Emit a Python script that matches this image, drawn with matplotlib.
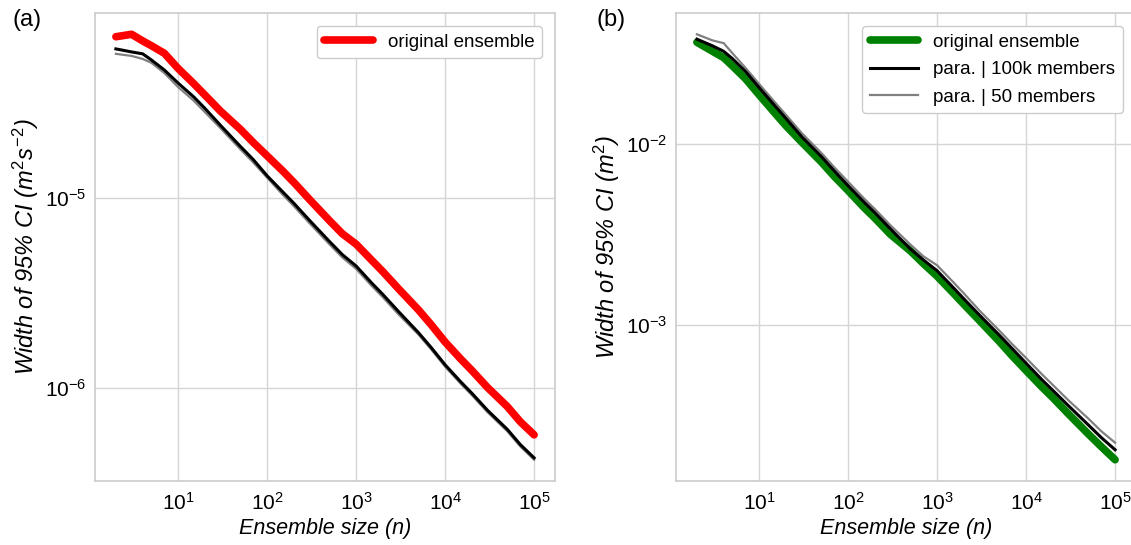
import numpy as np
import matplotlib
matplotlib.use("Agg")
import matplotlib.pyplot as plt

# ensemble sizes shared by all curves
n = [2, 3, 4, 5, 7, 10, 15, 20, 30, 50, 70, 100, 150, 200, 300, 500, 700,
     1000, 1500, 2000, 3000, 5000, 7000, 10000, 15000, 20000, 30000, 50000,
     70000, 100000]

# (a) log10 of CI width
a_orig = [-4.153, -4.140, -4.175, -4.200, -4.240, -4.320, -4.400, -4.460, -4.545,
          -4.640, -4.710, -4.780, -4.860, -4.920, -5.010, -5.120, -5.190, -5.245,
          -5.330, -5.390, -5.480, -5.590, -5.670, -5.760, -5.850, -5.910, -6.000,
          -6.100, -6.180, -6.249]
a_100k = [-4.217, -4.233, -4.243, -4.275, -4.328, -4.397, -4.470, -4.530, -4.620,
          -4.730, -4.800, -4.885, -4.970, -5.030, -5.120, -5.230, -5.300, -5.360,
          -5.450, -5.510, -5.600, -5.710, -5.790, -5.880, -5.970, -6.030, -6.120,
          -6.220, -6.300, -6.370]
a_50 = [-4.243, -4.254, -4.270, -4.290, -4.344, -4.418, -4.490, -4.550, -4.635,
        -4.745, -4.815, -4.895, -4.985, -5.045, -5.135, -5.245, -5.315, -5.375,
        -5.465, -5.525, -5.615, -5.720, -5.800, -5.890, -5.980, -6.040, -6.130,
        -6.230, -6.310, -6.380]

# (b)
b_orig = [-1.440, -1.490, -1.525, -1.570, -1.640, -1.730, -1.830, -1.900, -1.990,
          -2.100, -2.180, -2.258, -2.350, -2.410, -2.500, -2.590, -2.660, -2.730,
          -2.820, -2.885, -2.975, -3.090, -3.170, -3.250, -3.340, -3.400, -3.490,
          -3.600, -3.670, -3.742]
b_100k = [-1.423, -1.460, -1.490, -1.530, -1.600, -1.690, -1.790, -1.860, -1.960,
          -2.070, -2.150, -2.231, -2.320, -2.380, -2.470, -2.580, -2.640, -2.700,
          -2.790, -2.855, -2.945, -3.055, -3.130, -3.210, -3.300, -3.360, -3.445,
          -3.550, -3.620, -3.687]
b_50 = [-1.396, -1.430, -1.445, -1.500, -1.580, -1.670, -1.770, -1.840, -1.940,
        -2.050, -2.130, -2.209, -2.300, -2.360, -2.450, -2.555, -2.620, -2.670,
        -2.760, -2.825, -2.920, -3.030, -3.105, -3.181, -3.270, -3.330, -3.415,
        -3.515, -3.585, -3.648]

plt.rcParams['font.family'] = ['Liberation Sans', 'DejaVu Sans']
plt.rcParams['mathtext.fontset'] = 'custom'
plt.rcParams['mathtext.rm'] = 'Liberation Sans'
plt.rcParams['mathtext.it'] = 'Liberation Sans:italic'
plt.rcParams['mathtext.bf'] = 'Liberation Sans:bold'
plt.rcParams['axes.edgecolor'] = '#cccccc'
plt.rcParams['grid.color'] = '#d5d5d5'

W, H = 1131, 545
fig = plt.figure(figsize=(W / 100, H / 100), dpi=100)
ax1 = fig.add_axes([95 / W, (H - 481) / H, 460 / W, 468 / H])
ax2 = fig.add_axes([676 / W, (H - 481) / H, 460 / W, 468 / H])

n = np.array(n)
ax1.plot(n, 10 ** np.array(a_orig), color='red', lw=5.5, label='original ensemble',
         solid_capstyle='round', zorder=3)
ax1.plot(n, 10 ** np.array(a_50), color='gray', lw=1.6, zorder=2)
ax1.plot(n, 10 ** np.array(a_100k), color='black', lw=2.2, zorder=2)

ax2.plot(n, 10 ** np.array(b_orig), color='green', lw=5.5, label='original ensemble',
         solid_capstyle='round', zorder=1)
ax2.plot(n, 10 ** np.array(b_100k), color='black', lw=2.2, label='para. | 100k members',
         zorder=3)
ax2.plot(n, 10 ** np.array(b_50), color='gray', lw=1.6, label='para. | 50 members',
         zorder=2)

for ax, ylab in [(ax1, r'Width of 95% CI ($m^2s^{-2}$)'), (ax2, r'Width of 95% CI ($m^2$)')]:
    ax.set_xscale('log')
    ax.set_yscale('log')
    ax.grid(True, which='major', lw=1)
    ax.set_axisbelow(True)
    ax.tick_params(which='both', length=0, labelsize=15, pad=6)
    ax.tick_params(axis='x', pad=8)
    ax.set_xticks([1e1, 1e2, 1e3, 1e4, 1e5])
    ax.set_xlabel('Ensemble size (n)', fontsize=15.5, style='italic', labelpad=3)
    ax.set_ylabel(ylab, fontsize=17, style='italic', labelpad=3)
    ax.legend(loc='upper right', fontsize=13.5, handlelength=2.6, framealpha=1,
              edgecolor='#cccccc', borderaxespad=0.7, labelspacing=0.55)
    for s in ax.spines.values():
        s.set_linewidth(1.2)

ax1.minorticks_off()
ax2.minorticks_off()

fig.text(12 / W, 1 - 20 / H, '(a)', fontsize=17, va='center', ha='left')
fig.text(596 / W, 1 - 20 / H, '(b)', fontsize=17, va='center', ha='left')

fig.savefig('out.png', dpi=100)
